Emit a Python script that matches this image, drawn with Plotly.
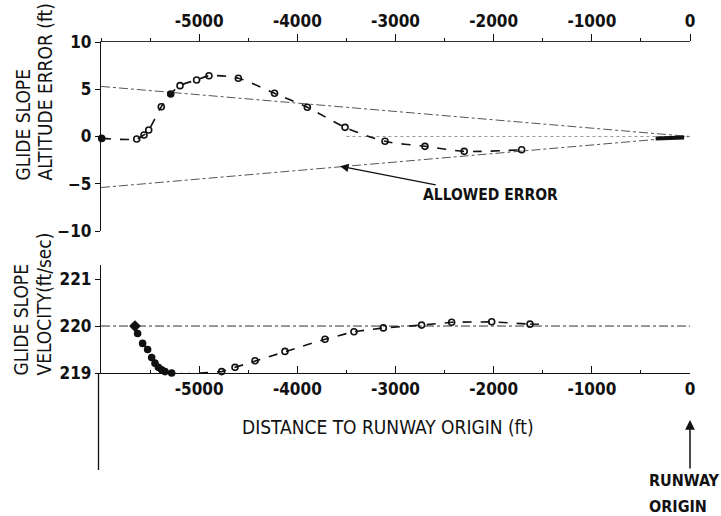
import plotly.graph_objects as go

# ---------------- data ----------------
# Distance to runway origin (ft) and glide-slope altitude error (ft)
alt_x = [-5993, -5636, -5562, -5514, -5386, -5290, -5195, -5026, -4900, -4601,
         -4232, -3898, -3514, -3107, -2700, -2300, -1715]
alt_y = [-0.2, -0.26, 0.16, 0.69, 3.15, 4.5, 5.38, 5.98, 6.43, 6.16,
         4.57, 3.09, 0.97, -0.51, -1.04, -1.57, -1.4]

# Allowed error envelope (converges to 0 at runway origin)
env_x = [-6000, 0]
env_upper = [5.3, 0]
env_lower = [-5.4, 0]

# short end segment near the origin
end_x = [-350, -60]
end_y = [-0.2, -0.1]

# zero reference
zero_x = [-3500, 0]
zero_y = [0, 0]

# Glide slope velocity (ft/sec)
vel_x = [-5654, -5627, -5576, -5525, -5484, -5450, -5416, -5382, -5348, -5280,
         -5138, -4771, -4635, -4431, -4126, -3718, -3423, -3124, -2734, -2428,
         -2020, -1630]
vel_y = [220.0, 219.84, 219.63, 219.5, 219.33, 219.21, 219.12, 219.07, 219.03, 219.0,
         218.98, 219.03, 219.12, 219.26, 219.46, 219.72, 219.88, 219.96, 220.02, 220.08,
         220.09, 220.04]
vel_tail_x = [-1630, -1450]
vel_tail_y = [220.04, 220.04]

ref_vel_x = [-6000, 0]
ref_vel_y = [220, 220]

x_ticks = [-5000, -4000, -3000, -2000, -1000, 0]
x_ticklabels = ["-5000", "-4000", "-3000", "-2000", "-1000", "0"]
alt_ticks = [-10, -5, 0, 5, 10]
vel_ticks = [219, 220, 221]

# ---------------- layout helpers ----------------
W, H = 721, 516
def px_x(p):
    return p / W
def px_y(p):
    return 1 - p / H

NARROW = "Liberation Sans Narrow, DejaVu Sans Condensed, sans-serif"
COND = "DejaVu Sans Condensed, DejaVu Sans, sans-serif"
INK = "#111111"

fig = go.Figure()

# top panel
fig.add_trace(go.Scatter(x=env_x, y=env_upper, mode="lines", xaxis="x", yaxis="y",
                         line=dict(color="#555", width=1, dash="dashdot"), showlegend=False))
fig.add_trace(go.Scatter(x=env_x, y=env_lower, mode="lines", xaxis="x", yaxis="y",
                         line=dict(color="#555", width=1, dash="dashdot"), showlegend=False))
fig.add_trace(go.Scatter(x=zero_x, y=zero_y, mode="lines", xaxis="x", yaxis="y",
                         line=dict(color="#999", width=1, dash="dot"), showlegend=False))
fig.add_trace(go.Scatter(x=alt_x, y=alt_y, mode="lines+markers", xaxis="x", yaxis="y",
                         line=dict(color=INK, width=1.6, dash="dash", shape="spline", smoothing=0.8),
                         marker=dict(symbol="circle-open", size=6, color=INK, line=dict(width=1.6)),
                         cliponaxis=False, showlegend=False))
fig.add_trace(go.Scatter(x=[alt_x[0], alt_x[5]], y=[alt_y[0], alt_y[5]], mode="markers",
                         xaxis="x", yaxis="y", marker=dict(symbol="circle", size=6, color=INK),
                         cliponaxis=False, showlegend=False))
fig.add_trace(go.Scatter(x=end_x, y=end_y, mode="lines", xaxis="x", yaxis="y",
                         line=dict(color=INK, width=4), showlegend=False))

# bottom panel
fig.add_trace(go.Scatter(x=ref_vel_x, y=ref_vel_y, mode="lines", xaxis="x2", yaxis="y2",
                         line=dict(color="#333", width=1, dash="dashdot"), showlegend=False))
fig.add_trace(go.Scatter(x=vel_x, y=vel_y, mode="lines+markers", xaxis="x2", yaxis="y2",
                         line=dict(color=INK, width=1.6, dash="dash"),
                         marker=dict(symbol="circle-open", size=6, color=INK, line=dict(width=1.6)),
                         cliponaxis=False, showlegend=False))
fig.add_trace(go.Scatter(x=vel_x[1:11], y=vel_y[1:11], mode="markers", xaxis="x2", yaxis="y2",
                         marker=dict(symbol="circle", size=6, color=INK),
                         cliponaxis=False, showlegend=False))
fig.add_trace(go.Scatter(x=vel_x[:1], y=vel_y[:1], mode="markers", xaxis="x2", yaxis="y2",
                         marker=dict(symbol="diamond", size=9, color=INK),
                         cliponaxis=False, showlegend=False))
fig.add_trace(go.Scatter(x=vel_tail_x, y=vel_tail_y, mode="lines", xaxis="x2", yaxis="y2",
                         line=dict(color=INK, width=1.4, dash="dash"), showlegend=False))

xdom = [px_x(101), px_x(690)]
tickfont = dict(family=NARROW, size=17, color=INK, weight="bold")

fig.update_layout(
    width=W, height=H, margin=dict(l=0, r=0, t=0, b=0),
    paper_bgcolor="white", plot_bgcolor="white",
    xaxis=dict(domain=xdom, range=[-6000, 0], side="top", anchor="y",
               tickvals=x_ticks, ticktext=x_ticklabels, ticks="outside", ticklen=7,
               tickcolor=INK, tickwidth=1.2,
               minor=dict(dtick=500, tick0=0, ticks="outside", ticklen=3, tickcolor=INK),
               showline=True, linecolor="#333", linewidth=1,
               showgrid=False, zeroline=False, tickfont=tickfont, automargin=False),
    yaxis=dict(domain=[px_y(231), px_y(42)], range=[-10, 10], anchor="x",
               tickvals=alt_ticks, ticks="outside", ticklen=5, tickcolor=INK,
               showline=True, linecolor=INK, linewidth=1.3,
               showgrid=False, zeroline=False, tickfont=tickfont, automargin=False),
    xaxis2=dict(domain=xdom, range=[-6000, 0], anchor="y2",
                tickvals=x_ticks, ticktext=x_ticklabels, ticks="inside", ticklen=7,
                tickcolor=INK, tickwidth=1.2,
                minor=dict(dtick=500, tick0=0, ticks="inside", ticklen=3, tickcolor=INK),
                showline=True, linecolor=INK, linewidth=1.2,
                showgrid=False, zeroline=False, tickfont=tickfont, automargin=False),
    yaxis2=dict(domain=[px_y(373), px_y(265)], range=[219, 221.3], anchor="x2",
                tickvals=vel_ticks, ticks="outside", ticklen=5, tickcolor=INK,
                showline=True, linecolor=INK, linewidth=1.3,
                showgrid=False, zeroline=False, tickfont=tickfont, automargin=False),
)

# extension of the lower vertical axis below the panel
fig.add_shape(type="line", xref="paper", yref="paper",
              x0=px_x(98.5), x1=px_x(98.5), y0=px_y(470), y1=px_y(373),
              line=dict(color=INK, width=1.3))

title_font = dict(family=NARROW, size=19, color=INK)
ann = []
# y-axis titles (rotated)
ann.append(dict(text="GLIDE SLOPE", xref="paper", yref="paper", x=px_x(23), y=px_y(183),
                xanchor="center", yanchor="bottom", textangle=-90, showarrow=False,
                font=title_font))
ann.append(dict(text="ALTITUDE ERROR (ft)", xref="paper", yref="paper", x=px_x(45), y=px_y(183),
                xanchor="center", yanchor="bottom", textangle=-90, showarrow=False,
                font=title_font))
ann.append(dict(text="GLIDE SLOPE", xref="paper", yref="paper", x=px_x(20), y=px_y(378),
                xanchor="center", yanchor="bottom", textangle=-90, showarrow=False,
                font=title_font))
ann.append(dict(text="VELOCITY(ft/sec)", xref="paper", yref="paper", x=px_x(43), y=px_y(378),
                xanchor="center", yanchor="bottom", textangle=-90, showarrow=False,
                font=title_font))
# x-axis title
ann.append(dict(text="DISTANCE TO RUNWAY ORIGIN (ft)", xref="paper", yref="paper",
                x=px_x(388), y=px_y(427), xanchor="center", yanchor="middle", showarrow=False,
                font=dict(family=COND, size=19, color=INK)))
# allowed error callout
ann.append(dict(text="<b>ALLOWED ERROR</b>", xref="x", yref="y", x=-3565, y=-3.15,
                ax=150, ay=29, xanchor="center", yanchor="middle", showarrow=True,
                arrowhead=2, arrowsize=1.3, arrowwidth=1.3, arrowcolor=INK, standoff=0,
                font=dict(family=COND, size=15.5, color=INK)))
# runway origin arrow + label
ann.append(dict(text="", xref="x2", yref="paper", x=0, y=px_y(420),
                ax=0, ay=50, showarrow=True, arrowhead=2, arrowsize=1.3, arrowwidth=1.5,
                arrowcolor=INK))
ann.append(dict(text="<b>RUNWAY</b>", xref="paper", yref="paper", x=px_x(647), y=px_y(480),
                xanchor="left", yanchor="middle", showarrow=False,
                font=dict(family=COND, size=16, color=INK)))
ann.append(dict(text="<b>ORIGIN</b>", xref="paper", yref="paper", x=px_x(647), y=px_y(506),
                xanchor="left", yanchor="middle", showarrow=False,
                font=dict(family=COND, size=16, color=INK)))
fig.update_layout(annotations=ann)

fig.write_html("out.html")
